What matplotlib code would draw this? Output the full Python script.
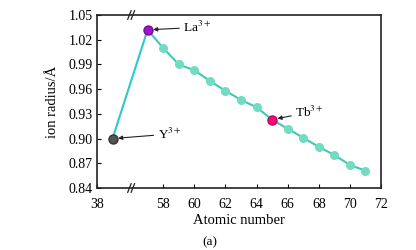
import numpy as np
import matplotlib as mpl
mpl.use('Agg')
from matplotlib import pyplot as plt

plt.rcParams['font.family'] = ['Liberation Serif', 'DejaVu Serif']
plt.rcParams['mathtext.fontset'] = 'stix'

# ionic radii (Å) vs atomic number
y_z = [39]
y_r = [0.900]
ln_z = [57, 58, 59, 60, 61, 62, 63, 64, 65, 66, 67, 68, 69, 70, 71]
ln_r = [1.032, 1.010, 0.990, 0.983, 0.970, 0.958, 0.947, 0.938, 0.923,
        0.912, 0.901, 0.890, 0.880, 0.868, 0.861]
xticks = [38, 58, 60, 62, 64, 66, 68, 70, 72]
yticks = [0.84, 0.87, 0.90, 0.93, 0.96, 0.99, 1.02, 1.05]

GAP = 15.75  # broken x axis: skip from ~40 to ~56


def fwd(x):
    x = np.asarray(x, dtype=float)
    return np.where(x < 48, x, x - GAP)


def inv(x):
    x = np.asarray(x, dtype=float)
    return np.where(x < 41.2, x, x + GAP)


fig = plt.figure(figsize=(4.16, 2.5), dpi=100)
ax = fig.add_axes([97 / 416, 1 - 188 / 250, 284 / 416, 173 / 250])
ax.set_xscale('function', functions=(fwd, inv))
ax.set_xlim(38, 72)
ax.set_ylim(0.84, 1.05)

# Y -> La segment
ax.plot([y_z[0], ln_z[0]], [y_r[0], ln_r[0]], color='#2cc8d2', lw=1.5, zorder=2)
ax.plot(ln_z, ln_r, color='#3fcab0', lw=1.5, zorder=2)
ax.plot(ln_z[1:], ln_r[1:], 'o', color='#72dcc0', ms=6.5, mec='none', zorder=3)
ax.plot(y_z, y_r, 'o', color='#555555', ms=6.5, mec='#333333', zorder=4)
ax.plot(ln_z[0], ln_r[0], 'o', color='#9b16c4', ms=6.5, mec='#7a0aa0', zorder=4)
ax.plot(ln_z[8], ln_r[8], 'o', color='#ec1079', ms=6.5, mec='#c00060', zorder=4)

arr = dict(arrowstyle='-|>', color='#222222', lw=0.8, mutation_scale=6,
           shrinkA=1, shrinkB=4)
ax.annotate('La$^{3+}$', xy=(ln_z[0], ln_r[0]), xytext=(59.3, 1.035),
            fontsize=9.5, va='center', arrowprops=arr)
ax.annotate('Y$^{3+}$', xy=(y_z[0], y_r[0]), xytext=(41.9, 0.9055),
            fontsize=9.5, va='center', arrowprops=arr)
ax.annotate('Tb$^{3+}$', xy=(ln_z[8], ln_r[8]), xytext=(66.5, 0.932),
            fontsize=9.5, va='center', arrowprops=arr)

ax.set_xticks(xticks)
ax.set_xticklabels([str(t) for t in xticks])
ax.set_yticks(yticks)
ax.set_yticklabels(['%.2f' % t for t in yticks])
ax.minorticks_off()
ax.tick_params(direction='in', length=3, width=0.8, labelsize=10, pad=3,
               top=False, right=False)
ax.tick_params(axis='x', pad=7)
for s in ax.spines.values():
    s.set_linewidth(1.2)
    s.set_color('#222222')

# break marks on the x axis
xb = (130 - 97) / 284
for yb in (0, 1):
    for dx in (-0.008, 0.004):
        ax.plot([xb + dx, xb + dx + 0.012], [yb - 0.025, yb + 0.025],
                transform=ax.transAxes, color='#222222', lw=0.9, clip_on=False)

ax.set_xlabel('Atomic number', fontsize=10.5, labelpad=2)
ax.set_ylabel('ion radius/Å', fontsize=10.5, labelpad=7)

fig.text(210 / 416, 2 / 250, '(a)', fontsize=9.5, ha='center', va='bottom')

fig.savefig('out.png', dpi=100)
